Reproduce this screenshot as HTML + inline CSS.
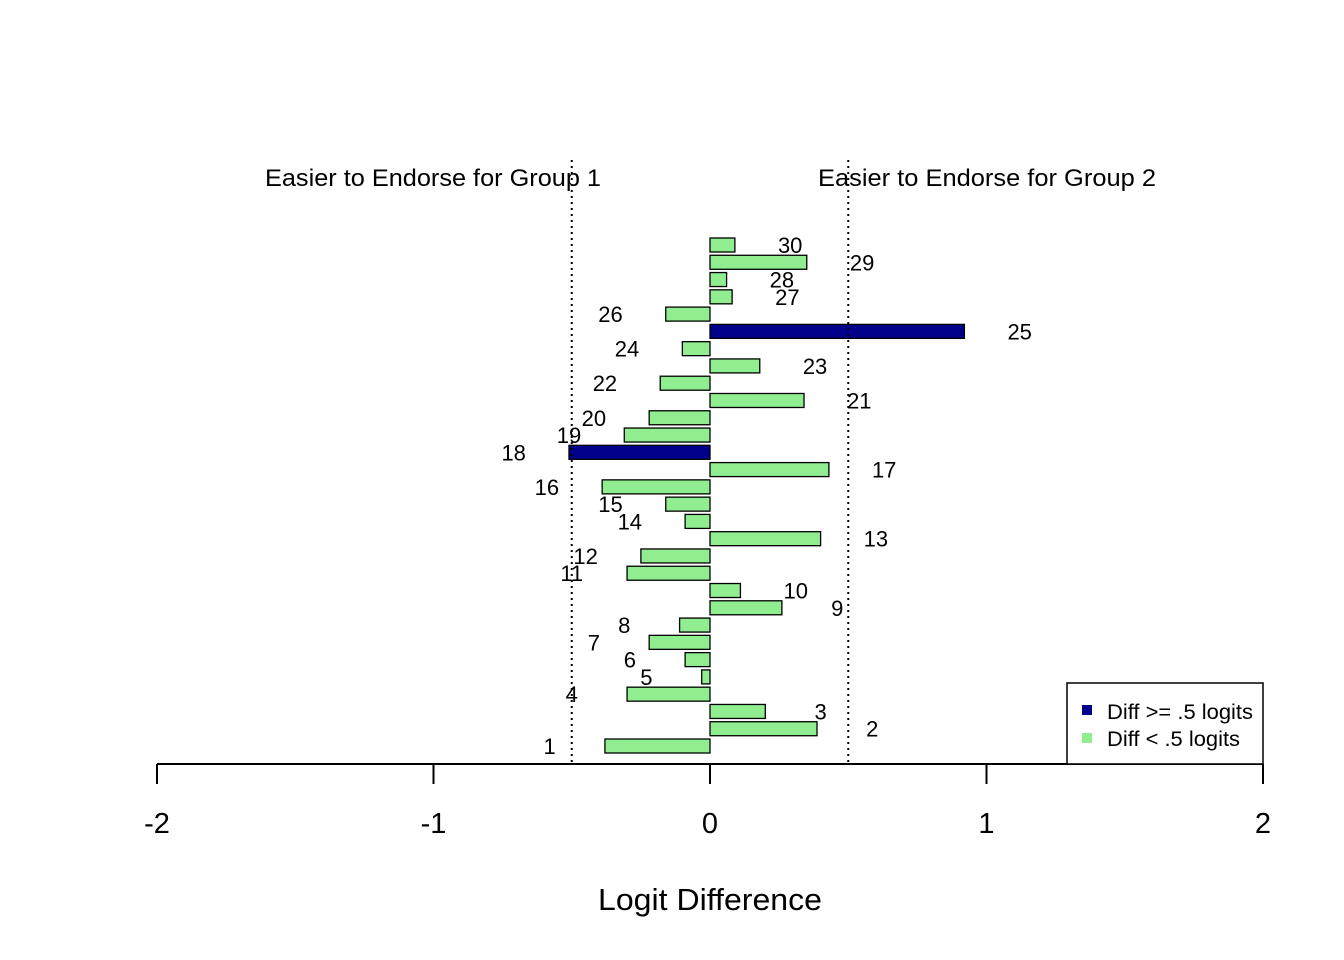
<!DOCTYPE html>
<html><head><meta charset="utf-8"><style>
html,body{margin:0;padding:0;background:#fff;}
svg{display:block;font-family:"Liberation Sans",sans-serif;}
</style></head><body>
<svg id="chart" width="1344" height="960" xmlns="http://www.w3.org/2000/svg"></svg>
<script>
const items = [1,2,3,4,5,6,7,8,9,10,11,12,13,14,15,16,17,18,19,20,21,22,23,24,25,26,27,28,29,30];
const diffs = [-0.38,0.387,0.20,-0.30,-0.03,-0.09,-0.22,-0.11,0.26,0.11,-0.30,-0.25,0.40,-0.09,-0.16,-0.39,0.43,-0.51,-0.31,-0.22,0.34,-0.18,0.18,-0.10,0.92,-0.16,0.08,0.06,0.35,0.09];
const xTicks = [-2,-1,0,1,2];
const threshold = 0.5;

const svg = document.getElementById('chart');
const NS = 'http://www.w3.org/2000/svg';
const xScale = v => 710 + v * 276.5;
const yScale = i => 746 - (i - 1) * (746 - 245) / 29;
function mk(tag, attrs, text) {
  const e = document.createElementNS(NS, tag);
  for (const k in attrs) e.setAttribute(k, attrs[k]);
  if (text !== undefined) e.textContent = text;
  svg.appendChild(e);
  return e;
}

items.forEach((it, idx) => {
  const v = diffs[idx];
  const y = yScale(it);
  const x0 = xScale(Math.min(0, v)), x1 = xScale(Math.max(0, v));
  const big = Math.abs(v) >= threshold;
  const r = mk('rect', {x: x0, y: y - 7, width: Math.max(x1 - x0, 0.5), height: 14, fill: big ? '#00008b' : '#90ee90', stroke: '#000', 'stroke-width': 1.3});
  
  
  const lx = xScale(v + (v >= 0 ? 0.2 : -0.2));
  const t = mk('text', {x: lx, y: y + 8, 'font-size': 22, 'text-anchor': 'middle', fill: '#000'}, String(it));
  
  
});

[-threshold, threshold].forEach(v => {
  const l = mk('line', {x1: xScale(v), x2: xScale(v), y1: 160, y2: 764, stroke: '#000', 'stroke-width': 2, 'stroke-dasharray': '2,4'});
  
  
});

const ax = mk('line', {x1: xScale(xTicks[0]), x2: xScale(xTicks[xTicks.length - 1]), y1: 764, y2: 764, stroke: '#000', 'stroke-width': 2});


xTicks.forEach(v => {
  const tk = mk('line', {x1: xScale(v), x2: xScale(v), y1: 764, y2: 784, stroke: '#000', 'stroke-width': 2});
  
  
  const tl = mk('text', {x: xScale(v), y: 833, 'font-size': 29, 'text-anchor': 'middle'}, String(v));
  
  
});

const xt = mk('text', {x: 710, y: 910, 'font-size': 31, 'text-anchor': 'middle', textLength: 224, lengthAdjust: 'spacingAndGlyphs'}, 'Logit Difference');


const g1 = mk('text', {x: 433, y: 186, 'font-size': 24, 'text-anchor': 'middle', textLength: 336, lengthAdjust: 'spacingAndGlyphs'}, 'Easier to Endorse for Group 1');


const g2 = mk('text', {x: 987, y: 186, 'font-size': 24, 'text-anchor': 'middle', textLength: 338, lengthAdjust: 'spacingAndGlyphs'}, 'Easier to Endorse for Group 2');



const lb = mk('rect', {x: 1067, y: 683, width: 196, height: 81, fill: '#fff', stroke: '#000', 'stroke-width': 1.5});


const s1 = mk('rect', {x: 1082, y: 705, width: 10, height: 10, fill: '#00008b'});


const e1 = mk('text', {x: 1107, y: 719, 'font-size': 21, textLength: 146, lengthAdjust: 'spacingAndGlyphs'}, 'Diff >= .5 logits');


const s2 = mk('rect', {x: 1082, y: 733, width: 10, height: 10, fill: '#90ee90'});


const e2 = mk('text', {x: 1107, y: 746, 'font-size': 21, textLength: 133, lengthAdjust: 'spacingAndGlyphs'}, 'Diff < .5 logits');


</script>
</body></html>
